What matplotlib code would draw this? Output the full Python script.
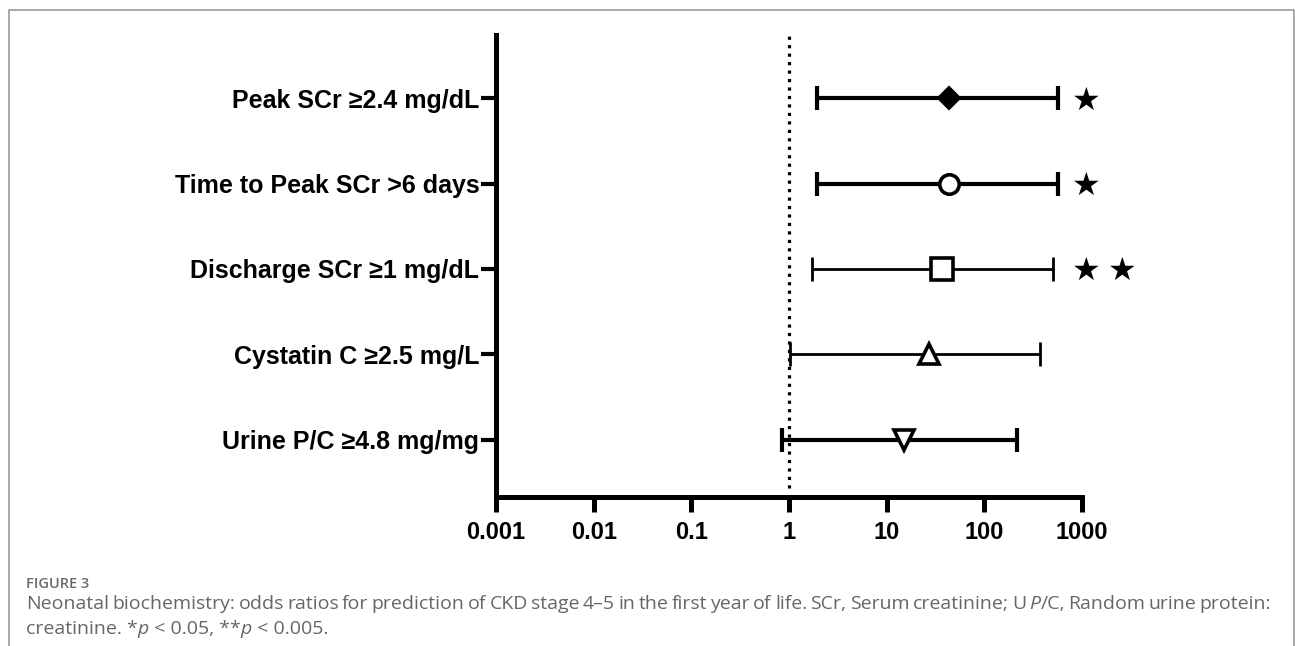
import numpy as np
import matplotlib.pyplot as plt
from matplotlib.lines import Line2D

# === Data (odds ratios with 95% CI) ===
labels = ['Peak SCr ≥2.4 mg/dL', 'Time to Peak SCr >6 days', 'Discharge SCr ≥1 mg/dL',
          'Cystatin C ≥2.5 mg/L', 'Urine P/C ≥4.8 mg/mg']
odds = [43, 43, 37, 27, 15]
ci_low = [1.95, 1.95, 1.7, 1.02, 0.84]
ci_high = [570, 570, 500, 370, 215]
stars = ['★', '★', '★★', '', '']
markers = ['D', 'o', 's', '^', 'v']
filled = [True, False, False, False, False]
thick = [True, True, False, False, True]

xticks = [0.001, 0.01, 0.1, 1, 10, 100, 1000]
xticklabels = ['0.001', '0.01', '0.1', '1', '10', '100', '1000']

W, H = 1295, 646
fig = plt.figure(figsize=(W / 100, H / 100), dpi=100)
ax = fig.add_axes([496 / W, 1 - 497 / H, (1082 - 496) / W, (497 - 35) / H])

ypos = np.arange(len(labels), 0, -1)
font = ['Liberation Sans', 'DejaVu Sans']

for i in range(len(labels)):
    lw = 3.0 if thick[i] else 2.0
    x = odds[i]
    ax.errorbar(x, ypos[i], xerr=[[x - ci_low[i]], [ci_high[i] - x]], fmt='none',
                ecolor='black', elinewidth=lw, capsize=8.5, capthick=lw, zorder=3)
    ms = {'D': 10, 'o': 14, 's': 16, '^': 14, 'v': 14}[markers[i]]
    ax.plot(x, ypos[i], marker=markers[i], ms=ms, mew=2.6, mec='black',
            mfc='black' if filled[i] else 'white', zorder=4, clip_on=False)
    if stars[i]:
        for k, s in enumerate(stars[i]):
            ax.annotate(s, xy=(1000, ypos[i]), xytext=(3 + 26 * k, -2),
                        textcoords='offset points', ha='center', va='center',
                        fontsize=23, family='DejaVu Sans', annotation_clip=False)

# reference line at OR = 1
ax.axvline(1, ymin=0.02, ymax=1, color='black', lw=2.3, ls=':', zorder=2)

ax.set_xscale('log')
ax.set_xlim(0.001, 1000)
ax.set_ylim(0.33, 5.74)
ax.set_xticks(xticks)
ax.set_xticklabels(xticklabels)
ax.minorticks_off()
ax.set_yticks(ypos)
ax.set_yticklabels(labels)

for lab in ax.get_xticklabels():
    lab.set_family(font)
    lab.set_fontweight('bold')
    lab.set_fontsize(17)
for lab in ax.get_yticklabels():
    lab.set_family(font)
    lab.set_fontweight('bold')
    lab.set_fontsize(18)

ax.tick_params(axis='x', length=11, width=3.6, pad=6)
ax.tick_params(axis='y', length=11, width=3.0, pad=1)
for side in ['top', 'right']:
    ax.spines[side].set_visible(False)
for side in ['left', 'bottom']:
    ax.spines[side].set_linewidth(3.6)
    ax.spines[side].set_capstyle('projecting')

# === Frame around the figure (open at the bottom) ===
fig.add_artist(Line2D([9 / W, 9 / W, 1293.5 / W, 1293.5 / W], [0, 1 - 10 / H, 1 - 10 / H, 0],
                      transform=fig.transFigure, color='#9a9a9a', lw=1.2))

# === Caption ===
cap_col = '#666666'
cap_font = ['Open Sans', 'DejaVu Sans']
fig.text(26 / W, 1 - 588 / H, 'FIGURE 3', fontsize=10.5, fontweight='semibold',
         color='#6a6a6a', family=cap_font, va='baseline')

line1 = ('Neonatal biochemistry: odds ratios for prediction of CKD stage 4–5 in the first '
         'year of life. SCr, Serum creatinine; U P/C, Random urine protein:').split(' ')
renderer = fig.canvas.get_renderer()
cap_size = 14


def word_parts(w):
    # italic P in "P/C,"
    if w == 'P/C,':
        return [('P', 'italic'), ('/C,', 'normal')]
    return [(w, 'normal')]


def draw_parts(x, y, parts, draw=True):
    start = x
    for txt, style in parts:
        t = fig.text(x / W, 1 - y / H, txt, fontsize=cap_size, style=style, color=cap_col,
                     family=cap_font, va='baseline')
        bb = t.get_window_extent(renderer)
        x += bb.width
        if not draw:
            t.remove()
    return x - start


widths = [draw_parts(0, -100, word_parts(w), draw=False) for w in line1]
gap = (1271 - 26 - sum(widths)) / (len(line1) - 1)
x = 26
for w, wd in zip(line1, widths):
    draw_parts(x, 609, word_parts(w))
    x += wd + gap

line2 = [('creatinine. *', 'normal'), ('p', 'italic'), (' < 0.05, **', 'normal'),
         ('p', 'italic'), (' < 0.005.', 'normal')]
draw_parts(26, 634, line2)

fig.savefig('out.png', dpi=100)
